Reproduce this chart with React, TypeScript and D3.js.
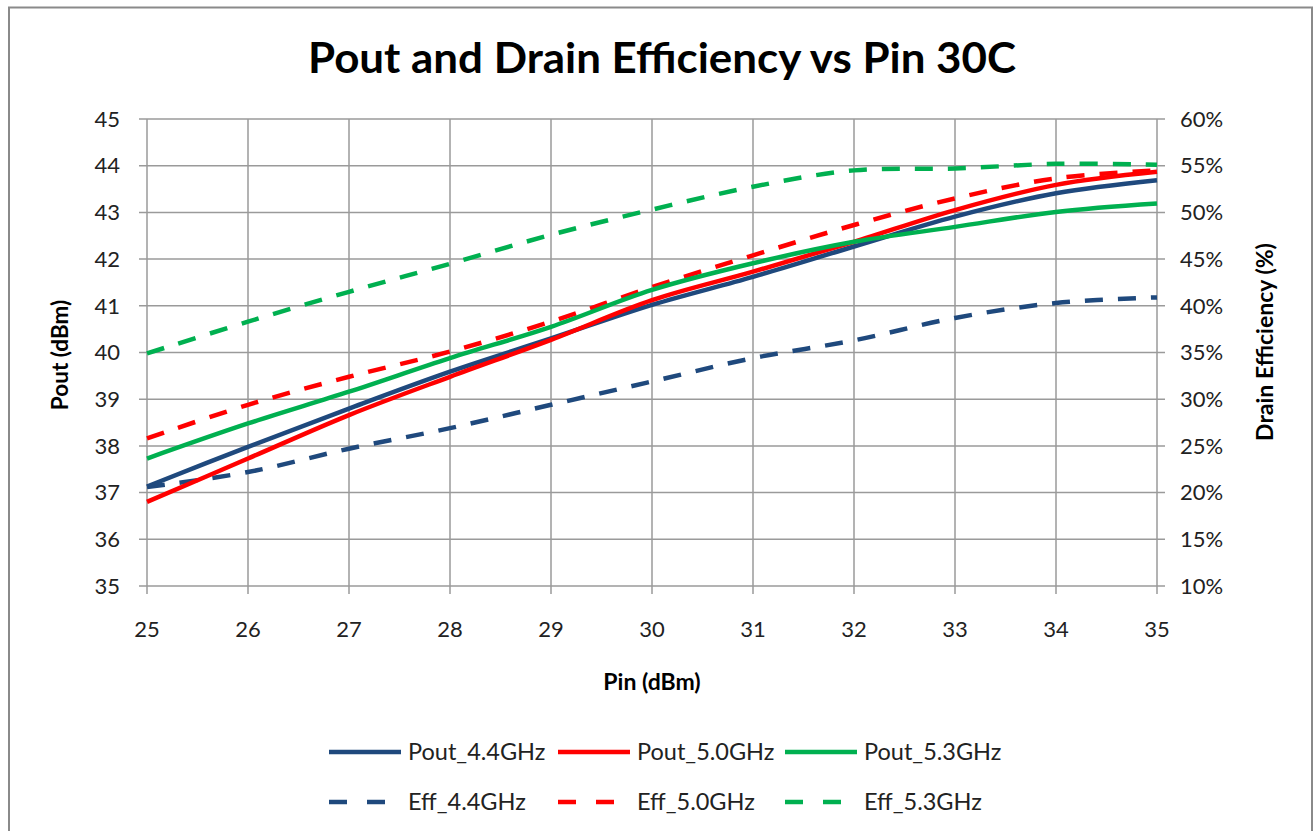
import React from "react";
import * as d3 from "d3";

const pin = [25, 26, 27, 28, 29, 30, 31, 32, 33, 34, 35];
const pout44 = [37.13, 37.98, 38.8, 39.59, 40.3, 41.02, 41.62, 42.27, 42.91, 43.41, 43.69];
const pout50 = [36.8, 37.73, 38.66, 39.48, 40.27, 41.12, 41.73, 42.37, 43.05, 43.59, 43.87];
const pout53 = [37.73, 38.48, 39.16, 39.88, 40.55, 41.34, 41.91, 42.37, 42.69, 43.01, 43.19];
const eff44 = [20.6, 22.2, 24.7, 26.9, 29.4, 31.9, 34.4, 36.3, 38.7, 40.3, 40.9];
const eff50 = [25.8, 29.4, 32.4, 35.1, 38.3, 42.0, 45.4, 48.65, 51.5, 53.65, 54.5];
const eff53 = [34.9, 38.3, 41.5, 44.5, 47.6, 50.3, 52.75, 54.5, 54.7, 55.2, 55.1];

const xTicks = [25, 26, 27, 28, 29, 30, 31, 32, 33, 34, 35];
const yLeftTicks = [35, 36, 37, 38, 39, 40, 41, 42, 43, 44, 45];
const yRightTicks = [10, 15, 20, 25, 30, 35, 40, 45, 50, 55, 60];

const BLUE = "#1F497D";
const RED = "#FF0000";
const GREEN = "#00B050";

const FONT = "Lato, 'Open Sans', sans-serif";

export default function App() {
  const left = 147, right = 1157, top = 119, bottom = 586;
  const x = d3.scaleLinear().domain([25, 35]).range([left, right]);
  const yL = d3.scaleLinear().domain([35, 45]).range([bottom, top]);
  const yR = d3.scaleLinear().domain([10, 60]).range([bottom, top]);

  const mk = (vals: number[], scale: d3.ScaleLinear<number, number>) =>
    d3.line<number>()
      .x((_, i) => x(pin[i]))
      .y((d) => scale(d))
      .curve(d3.curveCatmullRom.alpha(0.5))(vals) || "";

  const series = [
    { name: "Pout_4.4GHz", vals: pout44, scale: yL, color: BLUE, dash: false },
    { name: "Pout_5.0GHz", vals: pout50, scale: yL, color: RED, dash: false },
    { name: "Pout_5.3GHz", vals: pout53, scale: yL, color: GREEN, dash: false },
    { name: "Eff_4.4GHz", vals: eff44, scale: yR, color: BLUE, dash: true },
    { name: "Eff_5.0GHz", vals: eff50, scale: yR, color: RED, dash: true },
    { name: "Eff_5.3GHz", vals: eff53, scale: yR, color: GREEN, dash: true },
  ];
  const drawOrder = [3, 4, 5, 0, 1, 2];

  const gridColor = "#9A9A9A";
  const legendX = [329, 558, 785];
  const legendY = [752, 802];

  return (
    <svg width={1314} height={831} style={{ position: "fixed", left: 0, top: 0, background: "#fff" }}>
      <rect x={0} y={0} width={1314} height={831} fill="#fff" />
      <rect x={9} y={7.5} width={1303} height={900} fill="#fff" stroke="#8A8A8A" strokeWidth={2} />
      <text x={662} y={73} textAnchor="middle" fontFamily={FONT} fontWeight="bold" fontSize={42}
        textLength={708} lengthAdjust="spacingAndGlyphs" fill="#000">
        Pout and Drain Efficiency vs Pin 30C
      </text>

      {/* gridlines */}
      {yLeftTicks.map((t) => (
        <line key={"gh" + t} x1={left - 8} x2={right + 8} y1={yL(t)} y2={yL(t)} stroke={gridColor} strokeWidth={1.5} />
      ))}
      {xTicks.map((t) => (
        <line key={"gv" + t} x1={x(t)} x2={x(t)} y1={top} y2={bottom + 8} stroke={gridColor} strokeWidth={1.5} />
      ))}

      {/* tick labels */}
      {yLeftTicks.map((t) => (
        <text key={"yl" + t} x={120} y={yL(t)} dy="0.35em" textAnchor="end" fontFamily={FONT} fontSize={22} fill="#222">
          {t}
        </text>
      ))}
      {yRightTicks.map((t) => (
        <text key={"yr" + t} x={1180} y={yR(t)} dy="0.35em" textAnchor="start" fontFamily={FONT} fontSize={22} fill="#222">
          {t}%
        </text>
      ))}
      {xTicks.map((t) => (
        <text key={"xt" + t} x={x(t)} y={637} textAnchor="middle" fontFamily={FONT} fontSize={22} fill="#222">
          {t}
        </text>
      ))}

      {/* axis titles */}
      <text x={652} y={690} textAnchor="middle" fontFamily={FONT} fontWeight="bold" fontSize={23} fill="#000">
        Pin (dBm)
      </text>
      <text transform="translate(60,355) rotate(-90)" dy="0.35em" textAnchor="middle" fontFamily={FONT} fontWeight="bold" fontSize={22.5} fill="#000">
        Pout (dBm)
      </text>
      <text transform="translate(1265,342) rotate(-90)" dy="0.35em" textAnchor="middle" fontFamily={FONT} fontWeight="bold" fontSize={23} fill="#000">
        Drain Efficiency (%)
      </text>

      {/* series */}
      {drawOrder.map((i) => {
        const s = series[i];
        return (
          <path key={s.name} d={mk(s.vals, s.scale)} fill="none" stroke={s.color} strokeWidth={4.5}
            strokeDasharray={s.dash ? "18,15" : undefined} strokeLinejoin="round" strokeLinecap="butt" />
        );
      })}

      {/* legend */}
      {series.map((s, i) => {
        const col = i % 3;
        const row = Math.floor(i / 3);
        const lx = legendX[col];
        const ly = legendY[row];
        return (
          <g key={"lg" + s.name}>
            {s.dash ? (
              <>
                <line x1={lx} x2={lx + 18} y1={ly} y2={ly} stroke={s.color} strokeWidth={4.5} />
                <line x1={lx + 38} x2={lx + 56} y1={ly} y2={ly} stroke={s.color} strokeWidth={4.5} />
              </>
            ) : (
              <line x1={lx} x2={lx + 72} y1={ly} y2={ly} stroke={s.color} strokeWidth={4.5} />
            )}
            <text x={lx + 79} y={ly} dy="0.35em" fontFamily={FONT} fontSize={23.5} fill="#222">
              {s.name}
            </text>
          </g>
        );
      })}
    </svg>
  );
}
